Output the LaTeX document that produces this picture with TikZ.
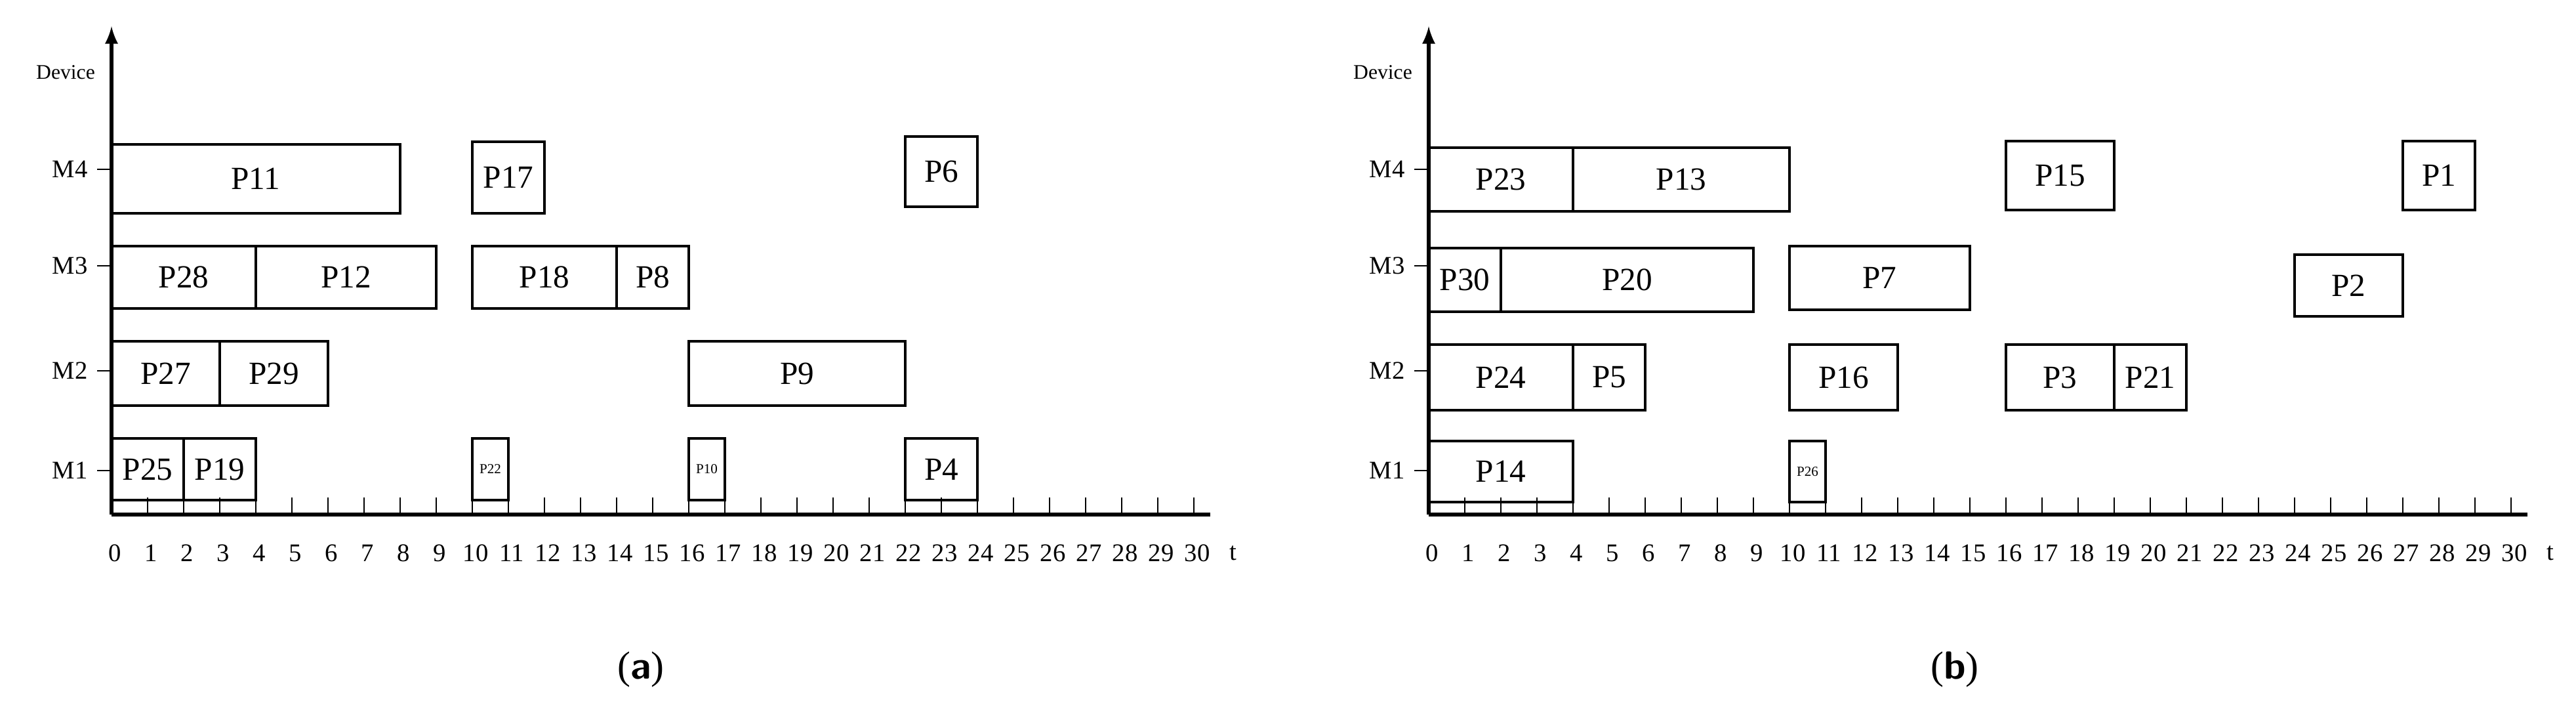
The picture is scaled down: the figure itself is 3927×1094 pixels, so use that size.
\documentclass[tikz,border=0pt]{standalone}
\usepackage{fontspec}
\setmainfont{Liberation Serif}
\begin{document}
\begin{tikzpicture}[x=0.01cm,y=-0.01cm,
  job/.style={draw,line width=1.3pt,inner sep=0pt,font=\fontsize{14}{16}\selectfont},
  ax/.style={line width=1.6pt},
  tk/.style={line width=0.6pt}]
\useasboundingbox (0,0) rectangle (3927,1094);
\newcommand{\chart}[2]{%
  \begin{scope}[shift={(#1,0)}]
  \coordinate (o#2) at (170,784);
  \coordinate (top#2) at (170,40);
  \coordinate (end#2) at (1845,784);
  \draw[ax,-latex] (o#2) -- (top#2);
  \draw[ax] (o#2) -- (end#2);
  \node[font=\fontsize{9}{10}\selectfont] (dev#2) at (100,110) {Device};
  \foreach \m/\y in {4/258,3/405,2/565,1/717}{
    \draw[tk] (148,\y) -- (170,\y);
    \node[anchor=east,font=\fontsize{11}{12}\selectfont] (m\m#2) at (146,\y) {M\m};}
  \foreach \i in {1,...,30}{\draw[tk] (170+55*\i,784) -- (170+55*\i,758);}
  \foreach \i in {0,...,30}{\node[font=\fontsize{11}{12}\selectfont] (n\i#2) at (175+55*\i,843) {\i};}
  \node[font=\fontsize{11}{12}\selectfont] (t#2) at (1880,843) {t};
  \end{scope}}
\newcommand{\job}[7]{% offset, name, start, end, top, bottom, fontsize
  \node[job,font=\fontsize{#7}{#7}\selectfont,minimum width={(#4-#3)*0.55cm},minimum height={(#6-#5)*0.01cm}]
   (#2) at ({#1+170+55*(#3+#4)/2},{(#5+#6)/2}) {#2};}
\chart{0}{a}
\chart{2008}{b}
% chart a
\job{0}{P11}{0}{8}{220}{325}{14}
\job{0}{P17}{10}{12}{216}{325}{14}
\job{0}{P6}{22}{24}{208}{315}{14}
\job{0}{P28}{0}{4}{375}{470}{14}
\job{0}{P12}{4}{9}{375}{470}{14}
\job{0}{P18}{10}{14}{375}{470}{14}
\job{0}{P8}{14}{16}{375}{470}{14}
\job{0}{P27}{0}{3}{520}{618}{14}
\job{0}{P29}{3}{6}{520}{618}{14}
\job{0}{P9}{16}{22}{520}{618}{14}
\job{0}{P25}{0}{2}{668}{762}{14}
\job{0}{P19}{2}{4}{668}{762}{14}
\job{0}{P22}{10}{11}{668}{762}{6}
\job{0}{P10}{16}{17}{668}{762}{6}
\job{0}{P4}{22}{24}{668}{762}{14}
% chart b
\job{2008}{P23}{0}{4}{225}{322}{14}
\job{2008}{P13}{4}{10}{225}{322}{14}
\job{2008}{P15}{16}{19}{215}{320}{14}
\job{2008}{P1}{27}{29}{215}{320}{14}
\job{2008}{P30}{0}{2}{378}{475}{14}
\job{2008}{P20}{2}{9}{378}{475}{14}
\job{2008}{P7}{10}{15}{375}{472}{14}
\job{2008}{P2}{24}{27}{388}{482}{14}
\job{2008}{P24}{0}{4}{525}{625}{14}
\job{2008}{P5}{4}{6}{525}{625}{14}
\job{2008}{P16}{10}{13}{525}{625}{14}
\job{2008}{P3}{16}{19}{525}{625}{14}
\job{2008}{P21}{19}{21}{525}{625}{14}
\job{2008}{P14}{0}{4}{672}{765}{14}
\job{2008}{P26}{10}{11}{672}{765}{6}
\node[font=\fontsize{17}{19}\selectfont] (capa) at (977,1020) {(\textbf{\sffamily a})};
\node[font=\fontsize{17}{19}\selectfont] (capb) at (2980,1020) {(\textbf{\sffamily b})};
\end{tikzpicture}
\end{document}
